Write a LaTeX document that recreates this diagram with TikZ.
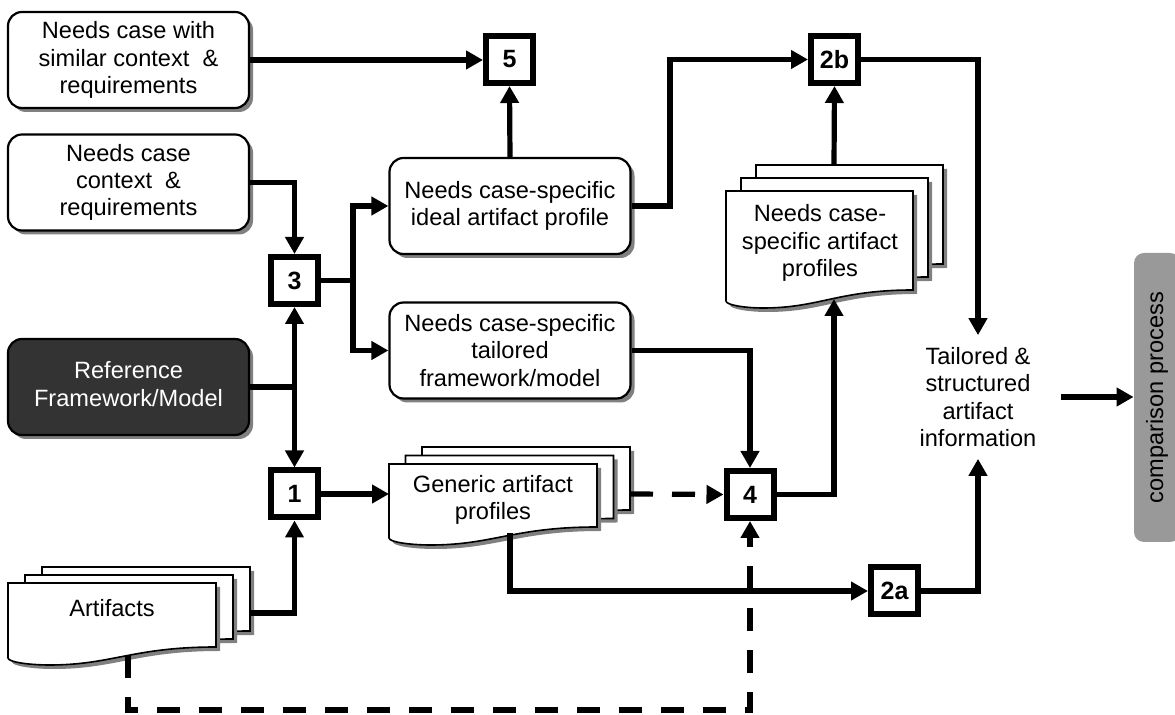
\documentclass[tikz,border=0pt]{standalone}
\usepackage{fontspec}
\setmainfont{Liberation Sans}
\usetikzlibrary{arrows.meta,shadows,positioning}

\tikzset{
  casebox/.style={draw, line width=1.1pt, rounded corners=7pt, fill=white,
    minimum width=120.5pt, minimum height=48pt, align=center, inner sep=2pt,
    drop shadow={shadow xshift=2pt, shadow yshift=-2pt, fill=black!50, opacity=1}},
  stepno/.style={draw, line width=3pt, fill=white, minimum size=23.5pt,
    inner sep=0pt, font=\fontsize{12.5}{14}\selectfont\bfseries},
  flow/.style={line width=2.6pt, -{Triangle[length=8.5pt,width=9pt]}},
  plain/.style={line width=2.6pt},
  dashes/.style={dash pattern=on 11.5pt off 9.5pt},
  docpage/.style={draw, line width=0.8pt, fill=white,
    drop shadow={shadow xshift=2pt, shadow yshift=-2pt, fill=black!50, opacity=1}},
  doctext/.style={align=center, inner sep=0pt}
}

% stack of three pages: front page x, y, width, height, page offset dx, dy
\newcommand{\docstack}[6]{%
  \foreach \k in {2,1,0}{
    \path[docpage] ({#1+#5*\k},{#2-#6*\k}) -- ++(#3,0) -- ++(0,#4)
      .. controls +(-0.4*#3,0) and +(0.3*#3,0) .. ++(-0.8*#3,18)
      .. controls +(-0.1*#3,0) and +(0,4) .. ++(-0.2*#3,-7) -- cycle;
  }}

\begin{document}
\begin{tikzpicture}[x=0.5pt,y=0.5pt,yscale=-1,font=\fontsize{11.8}{13.6}\selectfont]
\useasboundingbox (0,0) rectangle (1175,715);

% document stacks
\docstack{8}{583}{208}{64}{17}{8}
\docstack{389}{464}{208}{63}{16.5}{8.5}
\docstack{726}{191}{187}{99}{15}{13}

\node[doctext] (arts) at (112,608) {Artifacts};
\node[doctext] (gen) at (493,500) {Generic artifact\\profiles};
\node[doctext] (spec) at (820,243) {Needs case-\\specific artifact\\profiles};

\coordinate (artsR) at (249,613);
\coordinate (artsB) at (128,655);
\coordinate (genL) at (389,494);
\coordinate (genR) at (630,494);
\coordinate (genB) at (510,533);
\coordinate (specB) at (834,299);
\coordinate (specT) at (834,165);

% rounded boxes
\node[casebox] (simcase) at (128.5,60) {Needs case with\\similar context \ \&\\requirements};
\node[casebox] (ctxcase) at (128.5,182.5) {Needs case\\context \ \&\\requirements};
\node[casebox, fill=black!80, text=white] (refmodel) at (128.5,387) {\raisebox{3pt}{\begin{tabular}{@{}c@{}}Reference\\Framework/Model\end{tabular}}};
\node[casebox] (ideal) at (510,206) {Needs case-specific\\ideal artifact profile};
\node[casebox] (tailored) at (510,350.5) {Needs case-specific\\tailored\\framework/model};

% numbered steps
\node[stepno] (b5) at (509.5,59.5) {5};
\node[stepno] (b3) at (294.5,280.5) {3};
\node[stepno] (b1) at (294.5,494) {1};
\node[stepno] (b4) at (750,494.5) {4};
\node[stepno] (b2b) at (834.5,59.5) {2b};
\node[stepno] (b2a) at (894.5,591) {2a};

\node[align=center, inner xsep=12pt, inner ysep=6pt] (info) at (978,397) {Tailored \&\\structured\\artifact\\information};
\node[rounded corners=5pt, fill=black!40, rotate=90, minimum width=144.5pt, minimum height=23pt] (compare) at (1157,397.5) {comparison process};

% connectors
\draw[flow] (simcase.east) -- (simcase.east -| b5.west);
\draw[flow] (ctxcase.east) -| (b3.north);
\coordinate (refjoin) at (b3.south |- refmodel.east);
\draw[plain] (refmodel.east) -- (refjoin);
\draw[flow] (refjoin) -- (b3.south);
\draw[flow] (refjoin) -- (b1.north);
\coordinate (fork3) at (353,280.5);
\draw[plain] (b3.east) -- (fork3);
\draw[flow] (fork3) |- (ideal.west);
\draw[flow] (fork3) |- (tailored.west);
\draw[flow] (ideal.north) -- (b5.south);
\coordinate (bend2b) at (670,206);
\draw[flow] (ideal.east) -- (bend2b) |- (b2b.west);
\draw[flow] (b2b.east) -| (info.north);
\draw[flow] (b2a.east) -| (info.south);
\draw[flow] (info.east) -- (info.east -| compare.north);
\draw[flow] (b1.east) -- (genL);
\draw[flow] (artsR) -| (b1.south);
\draw[flow, dashes] (genR) -- (b4.west);
\draw[flow] (genB) |- (b2a.west);
\draw[flow] (tailored.east) -| (b4.north);
\draw[flow] (b4.east) -| (specB);
\draw[flow] (specT) -- (b2b.south);
\draw[flow, dashes] (artsB) -- ++(0,55) -| (b4.south);

\end{tikzpicture}
\end{document}
